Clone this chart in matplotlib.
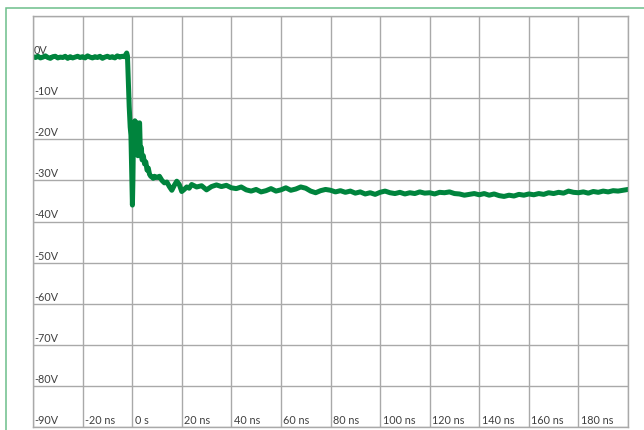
import matplotlib.pyplot as plt
from matplotlib.patches import Rectangle
from matplotlib.transforms import offset_copy

# --- waveform (time in ns, volts) ---
pre_t = [-40, -39, -38, -37, -36, -35, -34, -33, -32, -31, -30, -29, -28, -27, -26,
         -25, -24, -23, -22, -21, -20, -19, -18, -17, -16, -15, -14, -13, -12, -11,
         -10, -9, -8, -7, -6, -5, -4, -3]
pre_v = [0.1, -0.1, 0.2, -0.2, 0.0, 0.3, -0.1, -0.3, 0.1, 0.2, -0.2, 0.0, -0.1, 0.2,
         -0.3, 0.1, -0.2, 0.0, 0.2, -0.1, 0.1, -0.2, 0.3, 0.0, -0.2, 0.1, -0.1, 0.2,
         -0.3, 0.0, 0.2, -0.1, 0.1, -0.2, 0.3, 0.0, 0.2, 0.1]

edge_t = [-2.6, -2.2, -1.9, -1.6, -1.2, -0.8, -0.5, -0.2, 0.1, 0.3, 0.5, 0.8, 1.1,
          1.4, 1.7, 2.0, 2.3, 2.6, 3.0, 3.3, 3.7, 4.0, 4.5, 5.0, 5.5, 6.0, 6.5, 7.0,
          7.5, 8.0, 8.5, 9.0, 10.0, 11.0, 12.0, 13.0, 14.0, 15.0, 16.0, 17.0, 18.0,
          19.0, 20.0, 21.0, 22.0, 23.0]
edge_v = [0.6, 1.0, 0.3, -5.0, -12.0, -17.0, -19.0, -27.0, -36.0, -30.0, -20.0,
          -16.0, -15.5, -22.0, -18.0, -16.0, -24.0, -17.0, -16.0, -23.0, -22.0,
          -25.0, -24.0, -26.0, -25.5, -27.5, -27.0, -28.5, -29.0, -29.2, -29.5,
          -29.0, -29.3, -29.0, -30.0, -30.6, -30.4, -31.5, -32.4, -31.2, -30.2,
          -31.0, -32.7, -32.2, -31.6, -31.9]

tail_t = [24, 26, 28, 30, 32, 34, 36, 38, 40, 42, 44, 46, 48, 50, 52, 54, 56, 58,
          60, 62, 64, 66, 68, 70, 72, 74, 76, 78, 80, 82, 84, 86, 88, 90, 92, 94,
          96, 98, 100, 102, 104, 106, 108, 110, 112, 114, 116, 118, 120, 122, 124,
          126, 128, 130, 132, 134, 136, 138, 140, 142, 144, 146, 148, 150, 152, 154,
          156, 158, 160, 162, 164, 166, 168, 170, 172, 174, 176, 178, 180, 182, 184,
          186, 188, 190, 192, 194, 196, 198, 200]
tail_v = [-31.0, -31.6, -31.3, -32.3, -31.5, -31.1, -31.5, -31.2, -31.8, -32.0,
          -31.6, -32.3, -32.6, -32.2, -32.8, -32.5, -32.0, -32.6, -32.3, -31.8,
          -32.4, -32.1, -31.6, -31.9, -32.6, -33.0, -32.5, -32.2, -32.4, -32.8,
          -32.5, -32.9, -32.6, -33.1, -32.8, -33.3, -33.0, -33.4, -32.9, -32.6,
          -33.0, -33.2, -32.9, -33.3, -33.0, -33.2, -32.8, -33.1, -33.0, -33.3,
          -32.9, -33.0, -32.8, -33.2, -33.3, -33.6, -33.4, -33.2, -33.5, -33.2,
          -33.6, -33.3, -33.7, -33.9, -33.6, -33.8, -33.4, -33.6, -33.3, -33.5,
          -33.2, -33.4, -33.0, -33.2, -32.9, -33.1, -32.6, -32.9, -33.0, -32.8,
          -33.1, -32.7, -32.9, -32.6, -32.8, -32.5, -32.6, -32.4, -32.2]

y_ticks = [-90, -80, -70, -60, -50, -40, -30, -20, -10, 0]
y_labels = ["-90V", "-80V", "-70V", "-60V", "-50V", "-40V", "-30V", "-20V", "-10V", "0V"]
x_ticks = [-20, 0, 20, 40, 60, 80, 100, 120, 140, 160, 180]
x_labels = ["-20 ns", "0 s", "20 ns", "40 ns", "60 ns", "80 ns", "100 ns",
            "120 ns", "140 ns", "160 ns", "180 ns"]

t = pre_t + edge_t + tail_t
v = pre_v + edge_v + tail_v

plt.rcParams['font.family'] = ['Lato', 'DejaVu Sans']

fig = plt.figure(figsize=(6.44, 4.31), dpi=100)
fig.patches.append(Rectangle((6 / 644, -0.05), 1.0, 1 - 9 / 431 + 0.05,
                             transform=fig.transFigure, fill=False,
                             edgecolor='#6cbf8a', linewidth=1.1))

ax = fig.add_axes([33 / 644, 1 - 428 / 431, 595 / 644, 411 / 431])
ax.set_xlim(-40, 200)
ax.set_ylim(-90, 10)
ax.set_xticks(range(-40, 201, 20))
ax.set_yticks(range(-90, 11, 10))
ax.grid(True, color='#a9a9a9', linewidth=1.0)
ax.tick_params(length=0, labelleft=False, labelbottom=False)
for s in ax.spines.values():
    s.set_color('#a9a9a9')
    s.set_linewidth(1.0)

ax.plot(t, v, color='#00843d', linewidth=3.6, solid_joinstyle='round',
        solid_capstyle='round')

# labels drawn inside the plot area, Excel style
ytr = offset_copy(ax.get_yaxis_transform(), fig=fig, x=0.8, y=1.5, units='points')
for val, lab in zip(y_ticks, y_labels):
    ax.text(0, val, lab, transform=ytr, ha='left', va='bottom',
            fontsize=7.8, color='#404040')
xtr = offset_copy(ax.get_xaxis_transform(), fig=fig, x=1.8, y=1.5, units='points')
for val, lab in zip(x_ticks, x_labels):
    ax.text(val, 0, lab, transform=xtr, ha='left', va='bottom',
            fontsize=7.8, color='#404040')

fig.savefig("out.png", dpi=100)
